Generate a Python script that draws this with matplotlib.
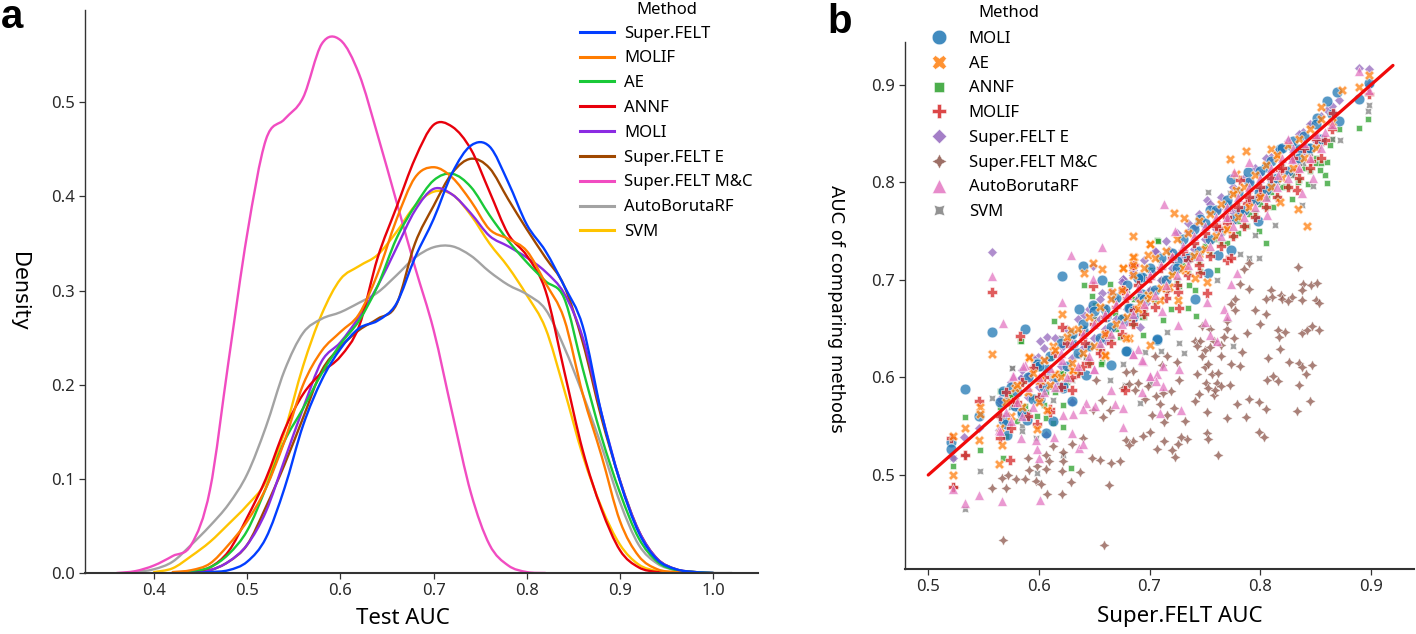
import matplotlib
matplotlib.use('Agg')
import matplotlib.pyplot as plt
from matplotlib.lines import Line2D
from matplotlib.path import Path
from matplotlib.patches import PathPatch

nan = float('nan')
W, H = 1416, 634
plt.rcParams['font.family'] = ['Noto Sans', 'DejaVu Sans']

## ------------------- panel a : density curves
auc_grid = [.36,.38,.40,.42,.44,.46,.48,.50,.52,.54,.56,.58,.60,.62,.64,.66,.68,.70,.72,.74,.76,.78,.80,.82,.84,.86,.88,.90,.92,.94,.96,.98,1.00,1.02]

d_felt  = [nan,nan,nan,nan,.000,.001,.003,.012,.037,.090,.157,.205,.238,.260,.268,.286,.335,.376,.425,.454,.453,.415,.370,.342,.305,.262,.170,.097,.043,.014,.004,.001,.000,nan]
d_molif = [nan,nan,nan,.001,.003,.010,.030,.055,.090,.140,.200,.236,.256,.275,.318,.375,.420,.431,.420,.395,.365,.355,.342,.308,.270,.190,.125,.055,.018,.004,.001,.000,nan,nan]
d_ae    = [nan,nan,nan,.000,.002,.006,.020,.045,.090,.140,.175,.212,.243,.268,.305,.355,.390,.417,.424,.410,.380,.353,.330,.310,.292,.217,.145,.085,.037,.012,.003,.001,.000,nan]
d_annf  = [nan,nan,nan,nan,.001,.006,.023,.059,.100,.152,.190,.213,.230,.262,.335,.388,.440,.476,.474,.450,.405,.360,.337,.300,.215,.130,.068,.024,.006,.001,.000,nan,nan,nan]
d_moli  = [nan,nan,nan,nan,.001,.003,.012,.030,.065,.120,.175,.225,.245,.272,.305,.345,.385,.408,.402,.382,.358,.347,.335,.320,.297,.250,.170,.098,.045,.015,.004,.001,.000,nan]
d_felt_e = [nan,nan,nan,nan,.001,.003,.012,.030,.070,.115,.165,.215,.240,.258,.270,.285,.350,.390,.425,.440,.430,.397,.365,.335,.305,.245,.165,.098,.045,.015,.004,.001,.000,nan]
d_felt_mc = [.000,.002,.008,.018,.030,.088,.225,.360,.460,.482,.505,.562,.566,.530,.465,.395,.325,.258,.170,.085,.030,.008,.001,.000,nan,nan,nan,nan,nan,nan,nan,nan,nan,nan]
d_auto  = [nan,.001,.004,.012,.030,.050,.073,.105,.155,.215,.255,.270,.277,.287,.298,.316,.335,.346,.347,.337,.320,.306,.296,.280,.240,.190,.135,.075,.030,.010,.003,.001,.000,.000]
d_svm   = [nan,nan,.001,.005,.018,.033,.052,.072,.097,.150,.220,.275,.312,.326,.338,.362,.390,.405,.402,.380,.350,.325,.295,.260,.195,.125,.070,.030,.009,.002,.000,nan,nan,nan]

kde_names = ['Super.FELT','MOLIF','AE','ANNF','MOLI','Super.FELT E','Super.FELT M&C','AutoBorutaRF','SVM']
kde_data = [d_felt,d_molif,d_ae,d_annf,d_moli,d_felt_e,d_felt_mc,d_auto,d_svm]
kde_colors = ['#023eff','#ff7c00','#1ac938','#e8000b','#8b2be2','#9f4800','#f14cc1','#a3a3a3','#ffc400']

## ------------------- panel b : scatter points
# points that could be picked out one by one
moli_x = [.533,.521,.521,.546,.568,.568,.578,.585,.589,.571,.601,.622,.630,.613,.606,.598,.643,.665,.607,.631,.558,.587,.621,.640,.657,.636,.630,.680,.707,.598,.649,.682,.685,.693,.691,.661,.640,.622,.707,.679,.741,.762,.737,.725,.693,.685,.681,.774,.753,.774,.789,.805,.818,.829,.842,.851,.860,.869,.871,.898,.889,.755,.746,.770,.799,.810,.782,.798,.835]
moli_y = [.588,.534,.527,.560,.586,.556,.571,.563,.556,.541,.578,.589,.576,.555,.543,.615,.603,.613,.609,.634,.647,.650,.704,.714,.700,.670,.633,.627,.638,.614,.674,.671,.662,.686,.703,.662,.649,.591,.639,.627,.680,.726,.724,.719,.703,.662,.671,.731,.707,.804,.811,.816,.834,.837,.835,.866,.884,.893,.863,.902,.886,.772,.762,.777,.790,.796,.770,.760,.834]

ae_x = [.558,.533,.522,.564,.598,.547,.547,.567,.578,.591,.613,.614,.630,.660,.601,.607,.546,.522,.621,.629,.591,.649,.641,.657,.676,.685,.700,.686,.699,.666,.615,.631,.660,.681,.700,.685,.685,.676,.745,.699,.709,.718,.726,.741,.752,.679,.700,.691,.732,.773,.787,.810,.778,.778,.855,.889,.834,.722,.731,.842,.818,.770,.874,.816,.898]
ae_y = [.624,.548,.500,.511,.547,.570,.563,.531,.589,.620,.632,.604,.608,.622,.597,.567,.536,.540,.665,.649,.621,.717,.707,.711,.712,.745,.737,.724,.726,.688,.604,.608,.623,.640,.737,.724,.715,.712,.727,.685,.679,.693,.679,.702,.698,.640,.633,.676,.710,.824,.832,.834,.809,.792,.877,.898,.773,.769,.764,.755,.780,.751,.895,.825,.910]

annf_x = [.533,.522,.568,.629,.606,.622,.613,.587,.598,.565,.622,.583,.606,.643,.657,.622,.574,.547,.641,.664,.648,.614,.584,.651,.707,.702,.669,.686,.695,.656,.673,.708,.805,.735,.742,.719,.727,.736,.712,.694,.741,.746,.761,.770,.693,.702,.897,.889,.860,.859,.860,.843,.834,.829,.812,.795,.799,.780,.788,.850,.854,.852,.863,.871,.822,.806]
annf_y = [.559,.509,.517,.507,.558,.549,.553,.571,.561,.586,.572,.637,.585,.621,.616,.604,.580,.526,.695,.696,.684,.658,.637,.674,.741,.710,.666,.680,.662,.614,.642,.740,.738,.671,.663,.670,.694,.695,.659,.644,.690,.709,.710,.738,.662,.710,.865,.856,.821,.808,.799,.798,.800,.783,.775,.769,.750,.748,.755,.820,.813,.837,.838,.855,.796,.784]

molif_x = [.546,.533,.522,.521,.565,.574,.577,.630,.610,.601,.558,.583,.649,.676,.686,.621,.642,.661,.686,.658,.685,.676,.752,.727,.678,.726,.694,.770,.746,.774,.763,.788,.782,.859,.833,.770,.818,.833,.866,.898,.598,.640,.716,.735,.800,.846]
molif_y = [.576,.520,.488,.538,.538,.515,.575,.587,.568,.594,.688,.643,.694,.690,.715,.652,.635,.645,.669,.625,.715,.690,.687,.671,.587,.688,.671,.720,.707,.723,.753,.779,.802,.844,.792,.758,.813,.813,.871,.891,.552,.612,.690,.720,.786,.822]

felt_e_x = [.558,.649,.676,.607,.601,.657,.641,.666,.685,.599,.591,.584,.621,.661,.679,.697,.584,.591,.606,.615,.565,.546,.532,.522,.564,.606,.630,.589,.676,.685,.706,.718,.703,.691,.898,.889,.871,.860,.839,.752,.741,.735,.800,.810,.782,.762,.818,.850,.829,.898,.640,.725,.775,.790,.655]
felt_e_y = [.729,.714,.701,.642,.637,.687,.664,.682,.705,.621,.602,.599,.631,.637,.657,.676,.599,.603,.618,.594,.575,.548,.539,.517,.546,.541,.575,.560,.701,.705,.729,.731,.707,.652,.916,.917,.885,.874,.852,.782,.755,.749,.809,.826,.769,.773,.835,.849,.825,.900,.645,.725,.770,.800,.660]

# brown stars, the widest cloud under the diagonal
felt_mc_x = [.834,.839,.846,.851,.838,.810,.811,.805,.819,.820,.829,.825,.838,.850,.853,.795,.805,.800,.788,.816,.822,.817,.818,.838,.842,.847,.853,.807,.826,.835,.838,.847,.841,.806,.812,.816,.835,.845,.833,.790,.799,.805,.779,.787,.770,.752,.799,.803,.752,.753,.762,.734,.732,.728,.726,.713,.720,.707,.723,.700,.694,.685,.679,.681,.713,.702,.716,.722,.709,.696,.706,.712,.719,.699,.690,.687,.681,.676,.727,.741,.745,.751,.753,.758,.759,.761,.765,.773,.743,.750,.753,.756,.762,.774,.782,.765,.784,.747,.750,.755,.741,.746,.743,.758,.767,.765,.776,.770,.770,.747,.755,.777,.777,.774,.782,.790,.785,.790,.705,.716,.711,.725,.685,.679,.568,.659,.523,.533,.558,.570,.567,.572,.579,.587,.597,.602,.607,.621,.629,.637,.663,.590,.591,.598,.606,.609,.606,.621,.622,.622,.613,.630,.640,.648,.655,.665,.658,.652,.649,.664,.657,.673]
felt_mc_y = [.713,.696,.695,.697,.690,.690,.683,.680,.685,.680,.683,.678,.679,.679,.676,.669,.665,.655,.646,.649,.647,.641,.629,.646,.649,.653,.649,.620,.616,.615,.611,.613,.604,.597,.601,.596,.592,.576,.566,.578,.575,.568,.573,.559,.558,.565,.544,.539,.543,.537,.521,.537,.555,.539,.532,.535,.526,.527,.518,.544,.540,.535,.536,.531,.554,.562,.562,.569,.573,.578,.581,.584,.586,.591,.594,.587,.593,.589,.597,.576,.583,.594,.589,.582,.587,.594,.591,.592,.604,.611,.614,.604,.605,.614,.612,.622,.626,.622,.628,.631,.637,.637,.632,.637,.642,.633,.640,.650,.658,.653,.650,.680,.669,.675,.696,.691,.711,.717,.622,.622,.613,.616,.607,.606,.433,.428,.488,.520,.487,.487,.497,.500,.496,.496,.494,.491,.480,.480,.493,.503,.490,.517,.505,.509,.521,.514,.506,.504,.514,.524,.530,.532,.538,.517,.515,.512,.559,.597,.567,.567,.577,.514]

auto_x = [.779,.774,.752,.767,.770,.750,.755,.761,.726,.690,.685,.694,.712,.727,.700,.707,.706,.712,.693,.709,.728,.676,.676,.711,.533,.546,.567,.601,.522,.600,.598,.564,.584,.597,.614,.622,.631,.630,.636,.640,.643,.640,.651,.665,.669,.650,.587,.577,.558,.568,.629,.657,.621,.649,.685,.693,.650,.700,.577,.586,.621,.889,.790,.776,.825,.713,.723,.829,.848,.838,.806,.816,.770,.859,.898]
auto_y = [.707,.696,.677,.670,.663,.657,.644,.637,.654,.629,.624,.617,.612,.609,.601,.604,.596,.591,.585,.564,.567,.569,.549,.668,.471,.479,.473,.474,.486,.517,.527,.546,.538,.536,.539,.562,.563,.543,.528,.532,.574,.568,.571,.587,.573,.609,.613,.603,.704,.656,.726,.734,.677,.701,.624,.618,.609,.602,.602,.612,.618,.914,.821,.811,.845,.778,.750,.824,.805,.789,.767,.808,.765,.852,.895]

svm_x = [.533,.547,.558,.576,.598,.622,.664,.522,.597,.613,.630,.585,.576,.643,.655,.716,.727,.731,.710,.691,.790,.799,.782,.761,.775,.696,.676,.700,.678,.898,.897,.872,.838,.813,.795,.753,.848,.839,.829,.865,.773,.845,.690,.620,.740]
svm_y = [.465,.504,.579,.610,.502,.521,.597,.517,.538,.577,.597,.550,.610,.621,.632,.647,.635,.625,.627,.574,.722,.723,.727,.700,.632,.626,.614,.594,.592,.879,.873,.844,.777,.756,.746,.790,.796,.820,.808,.845,.789,.859,.665,.640,.735]

# the dense band along the diagonal, too crowded to separate, so estimated by eye
band_x = [.565,.570,.575,.580,.585,.590,.595,.600,.605,.610,.615,.620,.625,.630,.635,.640,.645,.650,.655,.660,.665,.670,.675,.680,.685,.690,.695,.700,.705,.710,.715,.720,.725,.730,.735,.740,.745,.750,.755,.760,.765,.770,.775,.780,.785,.790,.795,.800,.805,.810,.815,.820,.825,.830,.835,.840,.845,.850,.855,.865]
band_moli = [.575,.552,.590,.585,.565,.600,.578,.612,.590,.622,.600,.635,.612,.645,.625,.655,.632,.668,.640,.670,.652,.682,.660,.695,.668,.702,.680,.712,.690,.722,.700,.728,.712,.742,.722,.752,.730,.758,.742,.772,.750,.782,.762,.790,.772,.800,.782,.812,.792,.822,.805,.835,.812,.842,.825,.848,.835,.860,.845,.870]
band_ae = [.548,.575,.560,.592,.570,.585,.605,.575,.618,.592,.628,.600,.642,.615,.650,.625,.662,.632,.672,.645,.680,.655,.690,.662,.705,.670,.712,.682,.722,.692,.730,.705,.742,.712,.748,.725,.760,.732,.768,.745,.778,.752,.788,.765,.795,.775,.808,.785,.818,.795,.828,.805,.838,.815,.845,.825,.855,.835,.865,.862]
band_annf = [.570,.540,.582,.555,.595,.565,.580,.610,.572,.620,.585,.605,.595,.640,.605,.650,.615,.660,.630,.668,.640,.650,.662,.672,.655,.682,.668,.690,.678,.700,.690,.708,.700,.715,.708,.725,.718,.735,.728,.742,.738,.752,.745,.760,.755,.768,.765,.778,.775,.790,.785,.795,.795,.808,.802,.815,.812,.825,.820,.845]
band_molif = [.560,.585,.548,.575,.595,.560,.610,.580,.600,.565,.625,.590,.635,.600,.605,.645,.615,.655,.625,.662,.635,.672,.645,.682,.655,.695,.665,.702,.672,.712,.682,.722,.695,.730,.705,.738,.715,.748,.725,.755,.735,.765,.745,.775,.755,.785,.765,.795,.775,.805,.785,.815,.795,.825,.805,.835,.815,.845,.825,.855]
band_felt_e = [.578,.560,.595,.570,.608,.580,.620,.590,.630,.600,.640,.612,.650,.620,.660,.630,.670,.640,.680,.650,.688,.660,.698,.670,.710,.680,.720,.690,.730,.700,.740,.712,.748,.722,.758,.732,.768,.742,.778,.752,.785,.762,.795,.772,.805,.782,.815,.792,.825,.802,.832,.812,.842,.822,.850,.832,.860,.842,.868,.878]
band_auto = [.545,.565,.555,.575,.560,.590,.570,.600,.585,.610,.590,.625,.600,.635,.612,.645,.622,.655,.635,.665,.645,.675,.655,.685,.665,.692,.675,.705,.685,.715,.695,.725,.705,.735,.715,.745,.725,.755,.735,.765,.745,.775,.755,.785,.765,.795,.775,.805,.785,.815,.795,.825,.805,.835,.815,.840,.825,.850,.835,.860]
band_svm = [.560,.578,.570,.590,.545,.600,.610,.575,.618,.590,.600,.632,.610,.640,.622,.650,.632,.660,.640,.672,.650,.680,.662,.690,.672,.698,.682,.708,.690,.718,.702,.726,.710,.735,.720,.745,.728,.755,.740,.762,.750,.772,.760,.782,.770,.792,.780,.802,.790,.812,.800,.820,.810,.830,.820,.838,.830,.848,.840,.858]

diag_x = [.50,.92]
diag_y = [.50,.92]

scatter_sets = [
    ('MOLI', moli_x+band_x, moli_y+band_moli, '#1f77b4', 'o', 60),
    ('AE', ae_x+band_x, ae_y+band_ae, '#ff7f0e', 'X', 50),
    ('ANNF', annf_x+band_x, annf_y+band_annf, '#2ca02c', (4, 0, 45), 50),
    ('MOLIF', molif_x+band_x, molif_y+band_molif, '#d62728', 'P', 50),
    ('Super.FELT E', felt_e_x+band_x, felt_e_y+band_felt_e, '#9467bd', (4, 0, 0), 50),
    ('Super.FELT M&C', felt_mc_x, felt_mc_y, '#8c564b', (4, 1, 0), 58),
    ('AutoBorutaRF', auto_x+band_x, auto_y+band_auto, '#e377c2', '^', 50),
    ('SVM', svm_x+band_x, svm_y+band_svm, '#7f7f7f', (4, 1, 45), 50),
]
draw_order = ['ANNF', 'SVM', 'Super.FELT M&C', 'Super.FELT E', 'MOLI', 'MOLIF', 'AE', 'AutoBorutaRF']


def px_axes(fig, left, right, top, bottom):
    return fig.add_axes([left/W, 1-bottom/H, (right-left)/W, (bottom-top)/H])


def smooth_path(xs, ys):
    # bezier segments through the read points, the curves are KDEs so no corners
    pts = [(x, y) for x, y in zip(xs, ys) if y == y]
    verts = [pts[0]]
    codes = [Path.MOVETO]
    for i in range(len(pts)-1):
        p0 = pts[max(i-1, 0)]
        p1 = pts[i]
        p2 = pts[i+1]
        p3 = pts[min(i+2, len(pts)-1)]
        verts.append((p1[0]+(p2[0]-p0[0])/6, p1[1]+(p2[1]-p0[1])/6))
        verts.append((p2[0]-(p3[0]-p1[0])/6, p2[1]-(p3[1]-p1[1])/6))
        verts.append(p2)
        codes += [Path.CURVE4, Path.CURVE4, Path.CURVE4]
    return Path(verts, codes)


fig = plt.figure(figsize=(W/100, H/100), dpi=100)

## ------------------- a
ax = px_axes(fig, 85, 758, 10, 573)
for name, vals, col in reversed(list(zip(kde_names, kde_data, kde_colors))):
    ax.add_patch(PathPatch(smooth_path(auc_grid, vals), fc='none', ec=col, lw=1.7, capstyle='round'))
ax.set_xlim(0.326, 1.048)
ax.set_ylim(0, 0.598)
ax.set_xticks([.4,.5,.6,.7,.8,.9,1.0])
ax.set_yticks([0,.1,.2,.3,.4,.5])
ax.set_xlabel('Test AUC', fontsize=16)
ax.xaxis.set_label_coords(0.473, -0.063)
ax.text(-0.098, 0.5, 'Density', transform=ax.transAxes, rotation=270, fontsize=15, ha='center', va='center', family=['DejaVu Sans'])

handles = [Line2D([], [], color=c, lw=2.2) for c in kde_colors]
ax.legend(handles, kde_names, frameon=False, loc='upper left',
          bbox_to_anchor=((580-85)/673, 1-(25.5-10)/563), fontsize=12,
          labelspacing=0.53, handlelength=2.05, handletextpad=0.6, borderpad=0, borderaxespad=0)
fig.text(667/W, 1-10/H, 'Method', fontsize=12, ha='center', va='center')

## ------------------- b
ax2 = px_axes(fig, 905, 1414, 42, 569)
by_name = {s[0]: s for s in scatter_sets}
for name in draw_order:
    name, xs, ys, col, mk, size = by_name[name]
    ax2.scatter(xs, ys, s=size, color=col, marker=mk, edgecolors='white', linewidths=0.5, alpha=0.75, label=name)
ax2.plot(diag_x, diag_y, color='#f00a0a', lw=2.3, solid_capstyle='round')
ax2.set_xlim(0.479, 0.939)
ax2.set_ylim(0.4036, 0.944)
ax2.set_xticks([.5,.6,.7,.8,.9])
ax2.set_yticks([.5,.6,.7,.8,.9])
ax2.set_xlabel('Super.FELT AUC', fontsize=16)
ax2.xaxis.set_label_coords(0.540, -0.071)
ax2.text(-0.136, 0.494, 'AUC of comparing methods', transform=ax2.transAxes, rotation=270, fontsize=13, ha='center', va='center', family=['DejaVu Sans'])

h2 = [Line2D([], [], ls='', marker=s[4], color=s[3], markeredgecolor='white', markeredgewidth=0.4, markersize=10.5, alpha=0.85) for s in scatter_sets]
ax2.legend(h2, [s[0] for s in scatter_sets], frameon=False, loc='upper left',
           bbox_to_anchor=(0.034, 1-(31-42)/527), fontsize=12,
           labelspacing=0.525, handletextpad=0.78, borderpad=0, borderaxespad=0)
fig.text(1009/W, 1-13/H, 'Method', fontsize=12, ha='center', va='center')

for a in (ax, ax2):
    a.spines['top'].set_visible(False)
    a.spines['right'].set_visible(False)
    a.spines['left'].set_color('#333333')
    a.spines['bottom'].set_color('#333333')
    a.spines['left'].set_linewidth(1.0)
    a.spines['bottom'].set_linewidth(1.5)
    a.tick_params(labelsize=12, length=4, width=0.9, color='#333333', labelcolor='#2a2a2a')

fig.text(1/W, 1-28/H, 'a', fontsize=29, fontweight='bold', family=['Liberation Sans'])
fig.text(827/W, 1-33/H, 'b', fontsize=29, fontweight='bold', family=['Liberation Sans'])

fig.savefig('out.png', dpi=100)
